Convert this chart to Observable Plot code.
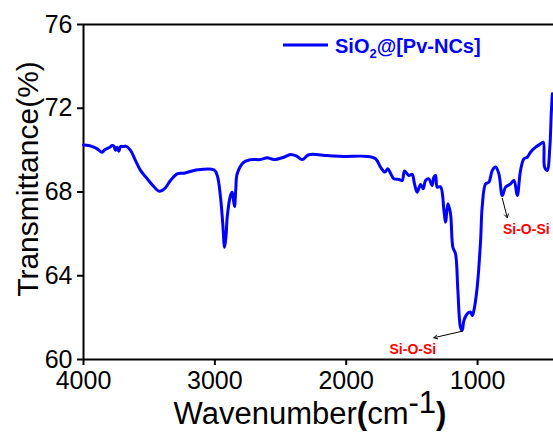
<!DOCTYPE html>
<html>
<head>
<meta charset="utf-8">
<script src="https://cdn.jsdelivr.net/npm/d3@7"></script>
<script src="https://cdn.jsdelivr.net/npm/@observablehq/plot@0.6"></script>
<style>
  html, body { margin: 0; padding: 0; background: #fff; }
  #chart { width: 553px; height: 434px; }
</style>
</head>
<body>
<div id="chart"></div>
<script>
// Wavenumber (cm-1) as placed on the drawn axis, and transmittance (%)
const wavenumber = [
  4000, 3960, 3922, 3896, 3858, 3840, 3800, 3782, 3769, 3756, 3744, 3731, 3718, 3693, 3680, 3642,
  3604, 3566, 3515, 3465, 3427, 3400, 3376, 3338, 3287, 3236, 3134, 3008, 2982, 2957, 2940, 2926,
  2915, 2906, 2881, 2868, 2858, 2850, 2840, 2830, 2780, 2728, 2652, 2601, 2551, 2480, 2424, 2380,
  2335, 2285, 2145, 2018, 1840, 1777, 1739, 1706, 1683, 1663, 1637, 1599, 1574, 1556, 1523, 1498,
  1480, 1460, 1434, 1414, 1396, 1371, 1346, 1333, 1320, 1307, 1282, 1256, 1244, 1226, 1206, 1188,
  1168, 1150, 1130, 1117, 1104, 1079, 1053, 1040, 1028, 1003, 977, 965, 939, 914, 888, 863,
  838, 812, 787, 749, 723, 698, 673, 647, 622, 597, 558, 520, 500, 490, 470, 450, 439, 431
];
const transmittance = [
  70.25, 70.22, 70.14, 70.06, 69.90, 70.01, 70.14, 70.22, 70.19, 69.99, 70.14, 69.95, 70.17, 70.17, 70.19, 69.99,
  69.50, 69.03, 68.63, 68.26, 68.04, 68.08, 68.20, 68.55, 68.87, 68.90, 69.06, 69.06, 68.79, 67.75, 66.50, 65.36,
  65.90, 66.80, 67.83, 67.99, 67.60, 67.31, 68.20, 68.87, 69.42, 69.54, 69.55, 69.63, 69.55, 69.65, 69.79, 69.72,
  69.55, 69.78, 69.74, 69.70, 69.70, 69.59, 69.19, 68.95, 69.11, 68.90, 68.63, 68.60, 68.55, 69.00, 68.79, 68.84,
  68.39, 67.99, 68.36, 68.15, 68.55, 68.63, 68.31, 68.71, 68.79, 68.23, 68.25, 67.12, 66.56, 67.44, 66.96, 65.36,
  65.05, 63.30, 61.54, 61.39, 61.86, 62.18, 62.26, 62.10, 62.34, 63.45, 65.68, 67.28, 68.39, 68.47, 69.03, 69.19,
  68.87, 67.83, 68.23, 68.39, 68.55, 67.83, 69.03, 69.59, 69.66, 69.90, 70.14, 70.30, 70.38, 69.19, 69.03, 70.14, 71.74, 72.69
];
const xTicks = [4000, 3000, 2000, 1000];
const yTicks = [60, 64, 68, 72, 76];
const xDomain = [4000, 422];
const yDomain = [60, 76];

// Annotations (data space)
const annotText = ["Si-O-Si", "Si-O-Si"];
const annotFromX = [1117, 812];
const annotFromY = [61.35, 67.70];
const annotToX = [1333, 774];
const annotToY = [61.04, 66.77];
const annotLabelX = [1493, 629];
const annotLabelY = [60.49, 66.22];

const curve = wavenumber.map((w, i) => ({w, t: transmittance[i]}));
const annots = annotText.map((s, i) => ({
  s, x1: annotFromX[i], y1: annotFromY[i], x2: annotToX[i], y2: annotToY[i],
  lx: annotLabelX[i], ly: annotLabelY[i]
}));

const W = 553, H = 434;
const mL = 83, mT = 24, mR = 0, mB = 75;
const blue = "#0000ff";
const font = "'Liberation Sans', Arial, Helvetica, sans-serif";

const plot = Plot.plot({
  width: W, height: H,
  marginLeft: mL, marginTop: mT, marginRight: mR, marginBottom: mB,
  style: {fontFamily: font, background: "#fff", color: "#000", overflow: "visible"},
  x: {domain: xDomain, ticks: xTicks, label: null},
  y: {domain: yDomain, ticks: yTicks, label: null},
  marks: [
    Plot.axisX({ticks: xTicks, tickSize: 6, tickPadding: 6, fontSize: 25, strokeWidth: 2, label: null, tickFormat: d => String(d)}),
    Plot.axisY({ticks: yTicks, tickSize: 6, tickPadding: 5, fontSize: 25, strokeWidth: 2, label: null}),
    Plot.ruleX([xDomain[0]], {stroke: "#000", strokeWidth: 2}),
    Plot.ruleY([yDomain[0]], {stroke: "#000", strokeWidth: 2}),
    Plot.ruleY([yDomain[1]], {stroke: "#000", strokeWidth: 2}),
    Plot.line(curve, {x: "w", y: "t", stroke: blue, strokeWidth: 3, curve: "catmull-rom", strokeLinejoin: "round"}),
    Plot.arrow(annots, {x1: "x1", y1: "y1", x2: "x2", y2: "y2", stroke: "#000", strokeWidth: 1, headLength: 6}),
    Plot.text(annots, {x: "lx", y: "ly", text: "s", fill: "#ff0000", fontSize: 14, fontWeight: "bold", lineAnchor: "middle"})
  ]
});

const svg = d3.select(plot);

// Legend
const legend = svg.append("g").attr("font-family", font);
legend.append("line").attr("x1", 283).attr("x2", 328).attr("y1", 45).attr("y2", 45)
  .attr("stroke", blue).attr("stroke-width", 3);
const lt = legend.append("text").attr("x", 335).attr("y", 53).attr("text-anchor", "start")
  .attr("fill", blue).attr("font-size", 20).attr("font-weight", "bold");
lt.append("tspan").text("SiO");
lt.append("tspan").text("2").attr("font-size", 13).attr("dy", 5);
lt.append("tspan").text("@[Pv-NCs]").attr("dy", -5);

// Axis titles
const xt = svg.append("text").attr("x", 310).attr("y", 424).attr("text-anchor", "middle")
  .attr("font-family", font).attr("font-size", 31).attr("fill", "#000");
xt.append("tspan").text("Wavenumber");
xt.append("tspan").text("(").attr("font-weight", "bold");
xt.append("tspan").text("cm");
xt.append("tspan").text("-1").attr("dy", -11);
xt.append("tspan").text(")").attr("font-weight", "bold").attr("dy", 11);

svg.append("text").attr("transform", "translate(38,179) rotate(-90)")
  .attr("text-anchor", "middle").attr("font-family", font).attr("font-size", 30)
  .attr("fill", "#000").text("Transmittance(%)");

document.getElementById("chart").appendChild(plot);
</script>
</body>
</html>
